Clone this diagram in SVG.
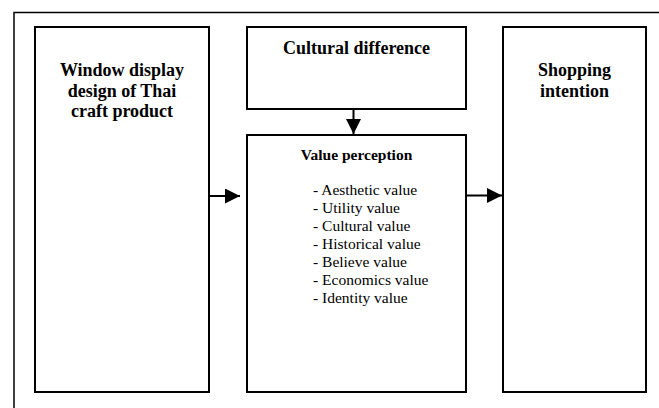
<svg xmlns="http://www.w3.org/2000/svg" width="659" height="408" viewBox="0 0 659 408">
  <style>
    .box { fill: #fff; stroke: #000; stroke-width: 2; }
    .frame { fill: none; stroke: #000; stroke-width: 1.5; }
    .title { font-family: "Liberation Serif", "Times New Roman", serif; font-weight: bold; font-size: 18px; text-anchor: middle; fill: #000; }
    .sub { font-family: "Liberation Serif", "Times New Roman", serif; font-weight: bold; font-size: 15.5px; text-anchor: middle; fill: #000; }
    .item { font-family: "Liberation Serif", "Times New Roman", serif; font-size: 15.5px; fill: #000; }
    .conn { stroke: #000; stroke-width: 2; fill: none; }
  </style>
  <defs>
    <marker id="head" viewBox="0 0 10 10" refX="10" refY="5" markerWidth="7.5" markerHeight="7.5" markerUnits="strokeWidth" orient="auto">
      <path d="M0,0 L10,5 L0,10 Z" fill="#000"/>
    </marker>
  </defs>
  <rect width="659" height="408" fill="#fff"/>
  <rect class="frame" x="14" y="12.5" width="680" height="430"/>

  <g id="window-display">
    <rect class="box" x="35" y="27" width="174" height="365"/>
    <text class="title" x="122" y="76">Window display</text>
    <text class="title" x="122" y="96.5">design of Thai</text>
    <text class="title" x="122" y="117">craft product</text>
  </g>

  <g id="cultural-difference">
    <rect class="box" x="247" y="27" width="219" height="82"/>
    <text class="title" x="356.5" y="54">Cultural difference</text>
  </g>

  <g id="value-perception">
    <rect class="box" x="247" y="135" width="219" height="257"/>
    <text class="sub" x="356.5" y="160">Value perception</text>
    <text class="item" x="313" y="195">- Aesthetic value</text>
    <text class="item" x="313" y="213">- Utility value</text>
    <text class="item" x="313" y="231">- Cultural value</text>
    <text class="item" x="313" y="249">- Historical value</text>
    <text class="item" x="313" y="267">- Believe value</text>
    <text class="item" x="313" y="285">- Economics value</text>
    <text class="item" x="313" y="303">- Identity value</text>
  </g>

  <g id="shopping-intention">
    <rect class="box" x="503" y="27" width="143" height="365"/>
    <text class="title" x="574.5" y="76">Shopping</text>
    <text class="title" x="574.5" y="96.5">intention</text>
  </g>

  <g id="connectors">
    <line class="conn" x1="353.5" y1="110" x2="353.5" y2="134" marker-end="url(#head)"/>
    <line class="conn" x1="210" y1="196" x2="240" y2="196" marker-end="url(#head)"/>
    <line class="conn" x1="467" y1="195.5" x2="502" y2="195.5" marker-end="url(#head)"/>
  </g>
</svg>
